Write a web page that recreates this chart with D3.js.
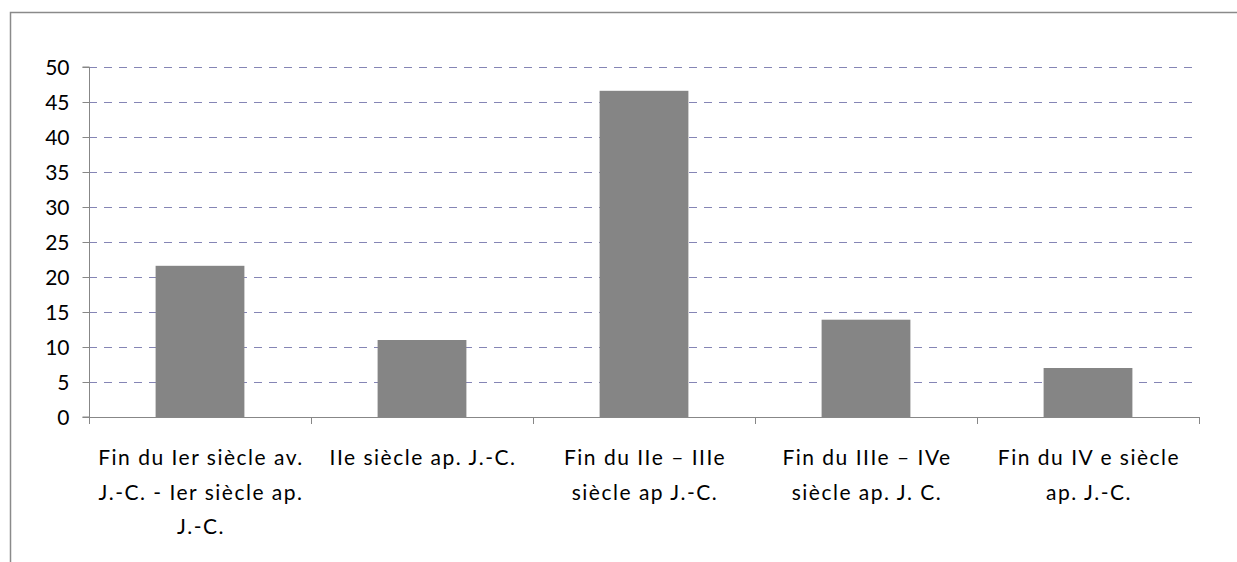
<!DOCTYPE html>
<html>
<head>
<meta charset="utf-8">
<script src="https://cdn.jsdelivr.net/npm/d3@7"></script>
<style>
  html, body { margin: 0; padding: 0; background: #fff; }
  svg { display: block; }
  text { font-family: Lato, "Open Sans", sans-serif; fill: #000; }
</style>
</head>
<body>
<svg id="chart" width="1237" height="562"></svg>
<script>
const categories = [
  "Fin du Ier siècle av. J.-C. - Ier siècle ap. J.-C.",
  "IIe siècle ap. J.-C.",
  "Fin du IIe – IIIe siècle ap J.-C.",
  "Fin du IIIe – IVe siècle ap. J. C.",
  "Fin du IV e siècle ap. J.-C."
];
const categoryLines = [
  ["Fin du Ier siècle av.", "J.-C. - Ier siècle ap.", "J.-C."],
  ["IIe siècle ap. J.-C."],
  ["Fin du IIe – IIIe", "siècle ap J.-C."],
  ["Fin du IIIe – IVe", "siècle ap. J. C."],
  ["Fin du IV e siècle", "ap. J.-C."]
];
const values = [21.6, 11.0, 46.6, 13.9, 7.0];
const yTicks = [0, 5, 10, 15, 20, 25, 30, 35, 40, 45, 50];

const svg = d3.select("#chart");
const plotLeft = 89, plotRight = 1199, plotTop = 67, plotBottom = 417;
const axisColor = "#878787";
const gridColor = "#8585b5";

// outer border
svg.append("rect")
  .attr("x", 10.5).attr("y", 12.5)
  .attr("width", 1400).attr("height", 700)
  .attr("fill", "none").attr("stroke", "#8a8a8a").attr("stroke-width", 1.5);

const x = d3.scaleBand().domain(categories).range([plotLeft, plotRight])
  .paddingInner(0.6).paddingOuter(0.3);
const y = d3.scaleLinear().domain([0, 50]).range([plotBottom, plotTop]);

// gridlines
svg.append("g").selectAll("line")
  .data(yTicks.filter(d => d > 0))
  .join("line")
  .attr("x1", plotLeft).attr("x2", plotRight)
  .attr("y1", d => Math.round(y(d)) + 0.5).attr("y2", d => Math.round(y(d)) + 0.5)
  .attr("stroke", gridColor).attr("stroke-width", 1.2)
  .attr("stroke-dasharray", "8,7");

// bars
svg.append("g").selectAll("rect")
  .data(values)
  .join("rect")
  .attr("x", (d, i) => x(categories[i]))
  .attr("width", x.bandwidth())
  .attr("y", d => y(d))
  .attr("height", d => y(0) - y(d))
  .attr("fill", "#858585");

// y axis
const yAxis = d3.axisLeft(y).tickValues(yTicks).tickSize(7).tickPadding(13)
  .tickFormat(d3.format("d"));
const gy = svg.append("g").attr("transform", `translate(${plotLeft + 0.5},0)`).call(yAxis);
gy.select(".domain").attr("stroke", axisColor).attr("d", `M-7,${y(50)}H0V${y(0)}H-7`);
gy.selectAll(".tick line").attr("stroke", axisColor);
gy.selectAll(".tick text").style("font-size", "21px").style("font-family", "Lato, sans-serif").attr("fill", "#000").attr("dy", "0.35em");

// x axis line and category boundary ticks
const gx = svg.append("g");
gx.append("line")
  .attr("x1", plotLeft).attr("x2", plotRight)
  .attr("y1", plotBottom + 0.5).attr("y2", plotBottom + 0.5)
  .attr("stroke", axisColor).attr("stroke-width", 1);
const step = x.step();
const boundaries = d3.range(categories.length + 1).map(i => plotLeft + i * step);
gx.selectAll("line.b").data(boundaries).join("line").attr("class", "b")
  .attr("x1", d => Math.round(d) + 0.5).attr("x2", d => Math.round(d) + 0.5)
  .attr("y1", plotBottom).attr("y2", plotBottom + 7)
  .attr("stroke", axisColor);

// x labels
const lbl = svg.append("g").selectAll("text")
  .data(categoryLines)
  .join("text")
  .attr("text-anchor", "middle")
  .style("font-size", "21px")
  .style("letter-spacing", "1.5px")
  .attr("transform", (d, i) => `translate(${x(categories[i]) + x.bandwidth() / 2 + 1},0)`);
lbl.selectAll("tspan").data(d => d).join("tspan")
  .attr("x", 0)
  .attr("y", (d, j) => 465 + j * 34.5)
  .text(d => d);
</script>
</body>
</html>
